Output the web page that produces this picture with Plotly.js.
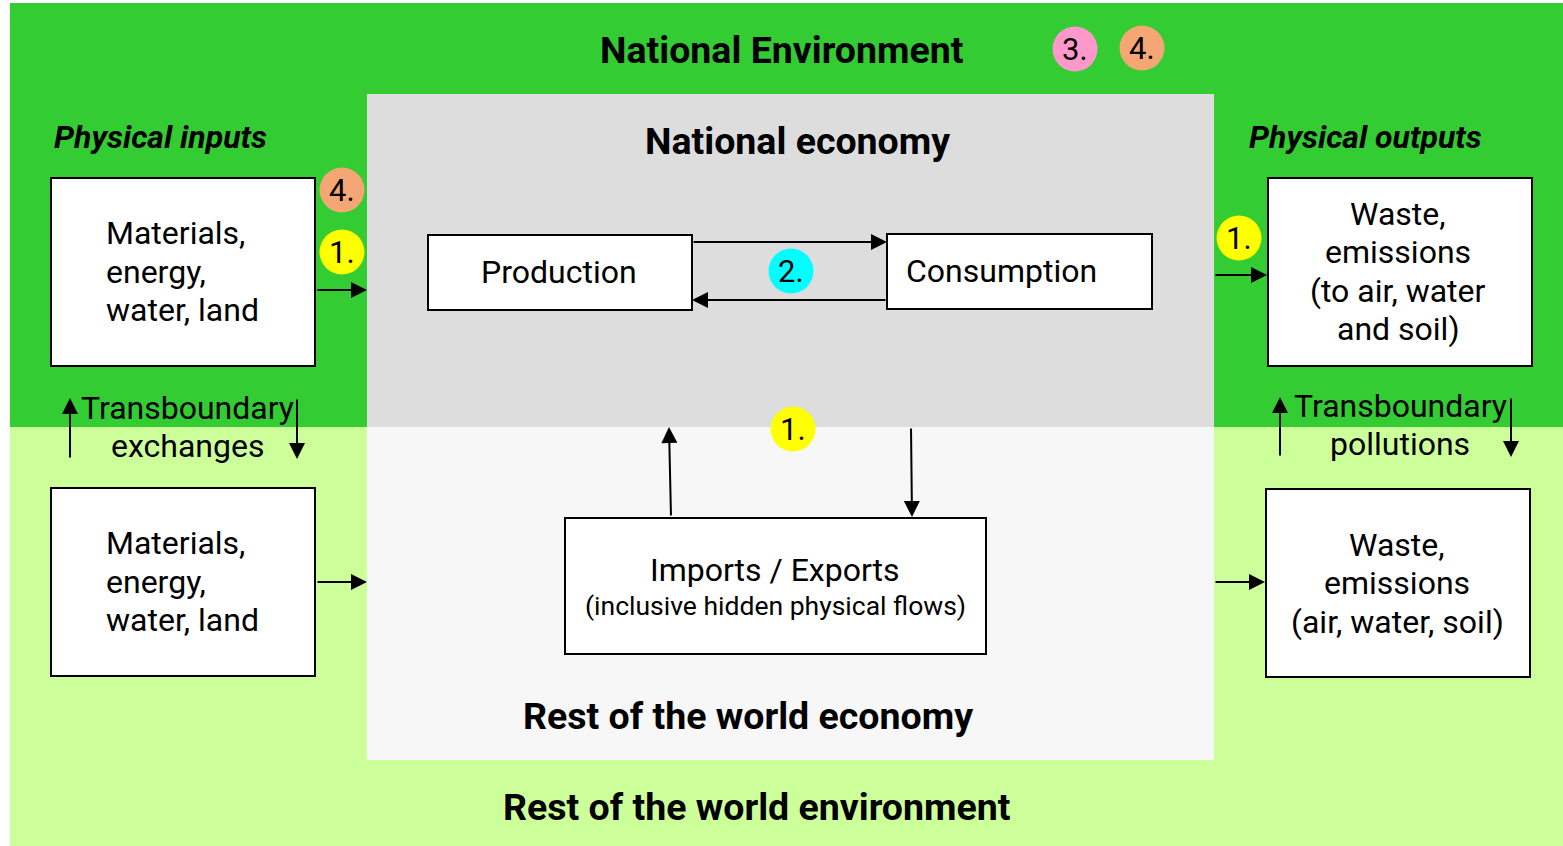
<!DOCTYPE html>
<html>
<head>
<meta charset="utf-8">
<script src="https://cdn.plot.ly/plotly-3.0.1.min.js"></script>
<style>html,body{margin:0;padding:0;background:#fff;}#chart{width:1563px;height:846px;}</style>
</head>
<body>
<div id="chart"></div>
<script>
// ---- content (text) ----
var regionLabels = ["National Environment", "National economy", "Rest of the world economy", "Rest of the world environment"];
var sideHeaders = ["Physical inputs", "Physical outputs"];
var boxLabels = [
  ["Materials,", "energy,", "water, land"],
  ["Waste,", "emissions", "(to air, water", "and soil)"],
  ["Materials,", "energy,", "water, land"],
  ["Waste,", "emissions", "(air, water, soil)"],
  ["Production"],
  ["Consumption"],
  ["Imports / Exports", "(inclusive hidden physical flows)"]
];
var transLabels = [["Transboundary", "exchanges"], ["Transboundary", "pollutions"]];
var badgeLabels = ["3.", "4.", "4.", "1.", "2.", "1.", "1."];
var badgeColors = ["#FF99CC", "#F4A775", "#F4A775", "#FFFF00", "#00FFFF", "#FFFF00", "#FFFF00"];

// ---- layout geometry (pixel frame) ----
var regions = [
  {x0: 10, y0: 3, x1: 1563, y1: 427, c: "#33CC33"},
  {x0: 10, y0: 427, x1: 1563, y1: 846, c: "#CCFF99"},
  {x0: 367, y0: 94, x1: 1214, y1: 427, c: "#DDDDDD"},
  {x0: 367, y0: 427, x1: 1214, y1: 760, c: "#F7F7F7"}
];
var regionText = [[781, 50], [797, 141], [748, 716], [757, 807]];
var sideHeaderPos = [[160, 137], [1365, 137]];
var boxes = [
  {x0: 51, y0: 178, x1: 315, y1: 366, tx: 104, ty: [233, 272, 310], al: "left", fs: [32, 32, 32]},
  {x0: 1268, y0: 178, x1: 1532, y1: 366, tx: 1398, ty: [214, 252, 291, 329], al: "center", fs: [32, 32, 32, 32]},
  {x0: 51, y0: 488, x1: 315, y1: 676, tx: 104, ty: [543, 582, 620], al: "left", fs: [32, 32, 32]},
  {x0: 1266, y0: 489, x1: 1530, y1: 677, tx: 1397, ty: [545, 583, 622], al: "center", fs: [32, 32, 32]},
  {x0: 428, y0: 235, x1: 692, y1: 310, tx: 559, ty: [272], al: "center", fs: [32]},
  {x0: 887, y0: 234, x1: 1152, y1: 309, tx: 904, ty: [271], al: "left", fs: [32]},
  {x0: 565, y0: 518, x1: 986, y1: 654, tx: 775, ty: [570, 605], al: "center", fs: [32, 26.5]}
];
var transPos = [{x: 187, ty: [408, 446]}, {x: 1400, ty: [406, 444]}];
var badges = [[1075, 49], [1142, 48], [342, 190], [342, 252], [791, 271], [793, 429], [1239, 238]];
// arrows: [tailX, tailY, headX, headY]
var arrows = [
  [316, 290, 367, 290], [316, 582, 367, 582],
  [1214, 275, 1267, 275], [1214, 582, 1265, 582],
  [692, 242, 887, 242], [887, 300, 692, 300],
  [671, 517, 669, 427], [911, 427, 912, 517],
  [70, 459, 70, 398], [297, 398, 297, 459],
  [1280, 457, 1280, 397], [1511, 397, 1511, 457]
];

var FONT = "Roboto, 'Noto Sans', sans-serif";
var shapes = [];
var annotations = [];

function label(x, y, text, size, anchor) {
  annotations.push({x: x, y: y, xref: "x", yref: "y", text: text, showarrow: false,
    xanchor: anchor || "center", yanchor: "middle", align: anchor || "center",
    font: {family: FONT, size: size, color: "#000"}});
}

regions.forEach(function (r) {
  shapes.push({type: "rect", xref: "x", yref: "y", x0: r.x0, y0: r.y0, x1: r.x1, y1: r.y1,
    fillcolor: r.c, line: {width: 0}, layer: "below"});
});
regionLabels.forEach(function (t, i) {
  label(regionText[i][0], regionText[i][1], "<b>" + t + "</b>", 37.5);
});
sideHeaders.forEach(function (t, i) {
  label(sideHeaderPos[i][0], sideHeaderPos[i][1], "<b><i>" + t + "</i></b>", 32);
});
boxes.forEach(function (b, i) {
  shapes.push({type: "rect", xref: "x", yref: "y", x0: b.x0, y0: b.y0, x1: b.x1, y1: b.y1,
    fillcolor: "#FFFFFF", line: {width: 2, color: "#000"}});
  boxLabels[i].forEach(function (line, j) {
    label(b.tx, b.ty[j], line, b.fs[j], b.al);
  });
});
transLabels.forEach(function (lines, i) {
  lines.forEach(function (line, j) {
    label(transPos[i].x, transPos[i].ty[j], line, 32);
  });
});
arrows.forEach(function (a) {
  annotations.push({x: a[2], y: a[3], ax: a[0], ay: a[1], xref: "x", yref: "y", axref: "x", ayref: "y",
    text: "", showarrow: true, arrowhead: 2, arrowsize: 1.6, arrowwidth: 2, arrowcolor: "#000", standoff: 0, startstandoff: 0});
});
badges.forEach(function (p, i) {
  shapes.push({type: "circle", xref: "x", yref: "y", x0: p[0] - 22.5, x1: p[0] + 22.5, y0: p[1] - 22.5, y1: p[1] + 22.5,
    fillcolor: badgeColors[i], line: {width: 0}});
  label(p[0], p[1], badgeLabels[i], 31);
});

var layout = {
  width: 1563, height: 846,
  margin: {l: 0, r: 0, t: 0, b: 0, pad: 0},
  paper_bgcolor: "#FFFFFF", plot_bgcolor: "#FFFFFF",
  xaxis: {range: [0, 1563], visible: false, fixedrange: true},
  yaxis: {range: [846, 0], visible: false, fixedrange: true},
  showlegend: false,
  shapes: shapes,
  annotations: annotations
};
Plotly.newPlot("chart", [], layout, {staticPlot: true, displayModeBar: false});
</script>
</body>
</html>
